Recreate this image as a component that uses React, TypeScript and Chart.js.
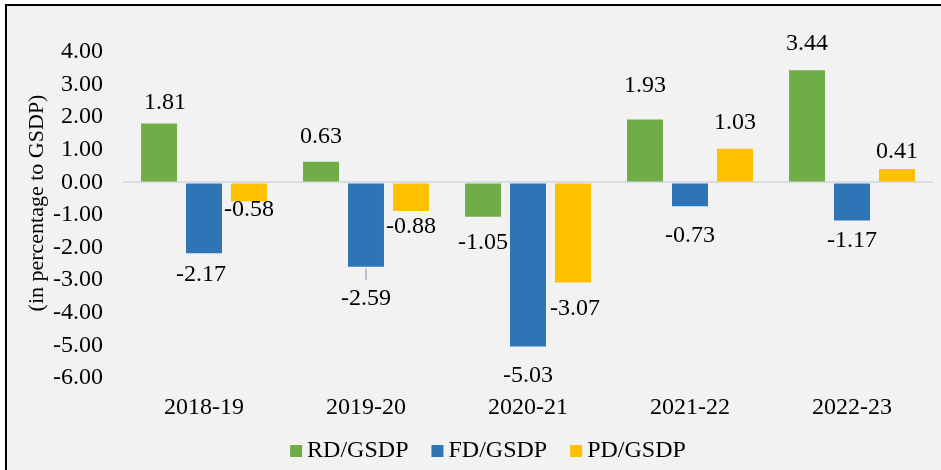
import React, { useEffect, useRef } from "react";
import { Chart, registerables } from "chart.js";

Chart.register(...registerables);

const categories = ["2018-19", "2019-20", "2020-21", "2021-22", "2022-23"];
const rdGsdp = [1.81, 0.63, -1.05, 1.93, 3.44];
const fdGsdp = [-2.17, -2.59, -5.03, -0.73, -1.17];
const pdGsdp = [-0.58, -0.88, -3.07, 1.03, 0.41];
const seriesNames = ["RD/GSDP", "FD/GSDP", "PD/GSDP"];
const yTitle = "(in percentage to GSDP)";

// label nudges (pixels, relative to bar end) as placed in the original
const labelNudges: number[][][] = [
  [[6, -21], [0, -25], [0, 26], [0, -34], [0, -26.5]],
  [[-3, 22], [0, 32], [0, 29], [0, 29.5], [0, 20.5]],
  [[0, 8], [0, 16], [2, 26], [0, -26.5], [0, -17]],
];
const leaderLines: Record<string, boolean> = { "1-1": true };

const FONT = "'Liberation Serif', 'Times New Roman', serif";
const FS = 24;
const TITLE_FS = 22;
const COLORS = ["#70ad47", "#2e75b6", "#ffc000"];

const framePlugin = {
  id: "frame",
  beforeDraw(chart: any) {
    const { ctx, width, height } = chart;
    ctx.save();
    ctx.fillStyle = "#ffffff";
    ctx.fillRect(0, 0, width, height);
    ctx.fillStyle = "#f2f2f2";
    ctx.fillRect(5, 4, width - 5, height - 4);
    ctx.fillStyle = "#000000";
    ctx.fillRect(5, 4, 2, height - 4);
    ctx.fillRect(5, 4, width - 5, 2);
    ctx.restore();
  },
  afterDraw(chart: any) {
    const { ctx } = chart;
    ctx.save();
    ctx.font = `${TITLE_FS}px ${FONT}`;
    ctx.fillStyle = "#000";
    ctx.textAlign = "center";
    ctx.textBaseline = "middle";
    ctx.translate(37, 203);
    ctx.rotate(-Math.PI / 2);
    ctx.fillText(yTitle, 0, 0);
    ctx.restore();

    ctx.save();
    ctx.font = `${FS}px ${FONT}`;
    ctx.textBaseline = "middle";
    ctx.textAlign = "left";
    const box = 12, gap = 5, itemGap = 23;
    const ds = chart.data.datasets;
    let total = 0;
    ds.forEach((d: any, i: number) => {
      total += box + gap + ctx.measureText(d.label).width + (i < ds.length - 1 ? itemGap : 0);
    });
    let x = 488 - total / 2;
    const yc = 451;
    ds.forEach((d: any) => {
      ctx.fillStyle = d.backgroundColor;
      ctx.fillRect(x, yc - 6, box, box);
      x += box + gap;
      ctx.fillStyle = "#000";
      ctx.fillText(d.label, x, yc);
      x += ctx.measureText(d.label).width + itemGap;
    });
    ctx.restore();
  },
  afterDatasetsDraw(chart: any) {
    const { ctx } = chart;
    ctx.save();
    ctx.font = `${FS}px ${FONT}`;
    ctx.fillStyle = "#000";
    ctx.textAlign = "center";
    ctx.textBaseline = "middle";
    chart.data.datasets.forEach((d: any, i: number) => {
      const meta = chart.getDatasetMeta(i);
      meta.data.forEach((el: any, j: number) => {
        const v = d.data[j];
        const [dx, dy] = labelNudges[i][j];
        if (leaderLines[`${i}-${j}`]) {
          ctx.save();
          ctx.strokeStyle = "#b4c0d0";
          ctx.lineWidth = 2;
          ctx.beginPath();
          ctx.moveTo(el.x, el.y + 2);
          ctx.lineTo(el.x, el.y + 13);
          ctx.stroke();
          ctx.restore();
        }
        ctx.fillText(Number(v).toFixed(2), el.x + dx, el.y + dy);
      });
    });
    ctx.restore();
  },
};

export default function App() {
  const ref = useRef<HTMLCanvasElement>(null);
  useEffect(() => {
    if (!ref.current) return;
    const chart = new Chart(ref.current, {
      type: "bar",
      data: {
        labels: categories,
        datasets: [rdGsdp, fdGsdp, pdGsdp].map((data, i) => ({
          label: seriesNames[i],
          data,
          backgroundColor: COLORS[i],
          borderWidth: 0,
          categoryPercentage: 0.833,
          barPercentage: 0.8,
        })),
      },
      options: {
        responsive: false,
        animation: false,
        devicePixelRatio: 1,
        layout: { padding: { top: 52, right: 8, left: 0, bottom: 0 } },
        plugins: {
          legend: { display: false },
          tooltip: { enabled: false },
          title: { display: false },
        },
        scales: {
          x: {
            grid: { display: false, drawTicks: false },
            border: { display: false },
            ticks: { font: { family: FONT, size: FS }, color: "#000", padding: 15 },
            afterFit: (s: any) => { s.height = 92; },
          },
          y: {
            min: -6,
            max: 4,
            z: 1,
            border: { display: false },
            grid: {
              drawTicks: false,
              color: (c: any) => (c.tick && c.tick.value === 0 ? "#d9dde3" : "rgba(0,0,0,0)"),
              lineWidth: 2,
            },
            ticks: {
              stepSize: 1,
              font: { family: FONT, size: FS },
              color: "#000",
              padding: 20,
              callback: (v: any) => Number(v).toFixed(2),
            },
            afterFit: (s: any) => { s.width = 123; },
          },
        },
      },
      plugins: [framePlugin],
    });
    return () => chart.destroy();
  }, []);
  return (
    <div style={{ position: "fixed", left: 0, top: 0, width: 941, height: 470, overflow: "hidden", background: "#fff" }}>
      <canvas ref={ref} width={941} height={470} style={{ display: "block" }} />
    </div>
  );
}
